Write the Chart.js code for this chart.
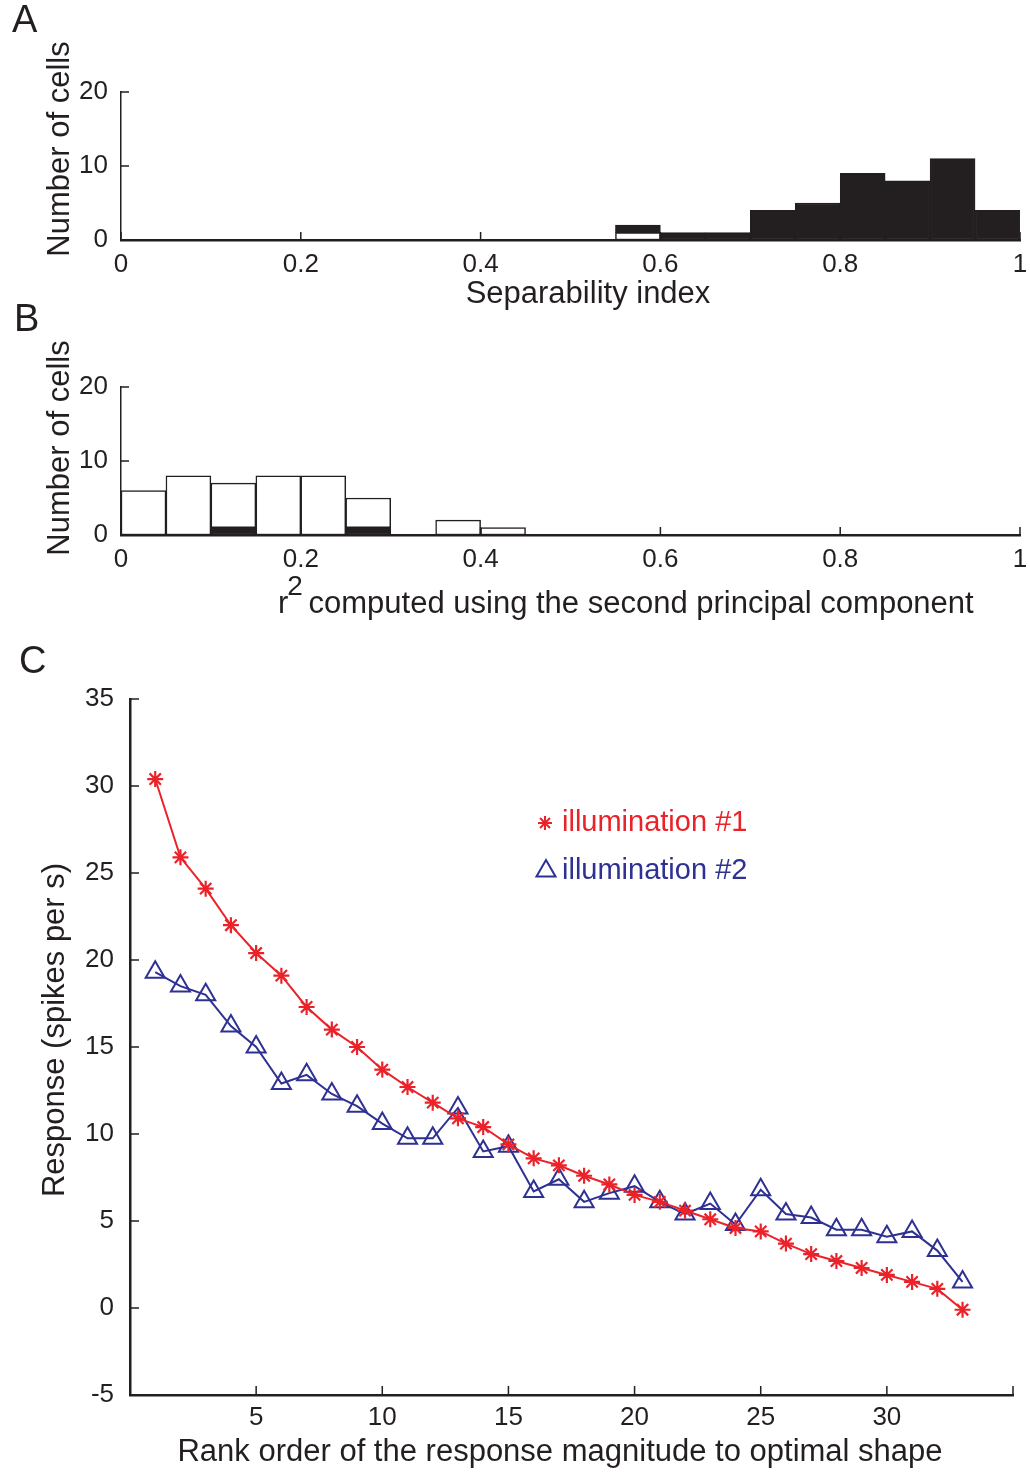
<!DOCTYPE html>
<html lang="en">
<head>
<meta charset="UTF-8" />
<title>Separability index and response rank</title>
<script src="https://cdn.jsdelivr.net/npm/chart.js"></script>
<style>
  html, body {
    margin: 0;
    padding: 0;
    background: #fff;
  }
  #page {
    position: relative;
    width: 1030px;
    height: 1474px;
  }
  canvas {
    position: absolute;
    left: 0;
  }
</style>
</head>
<body>
<div id="page">
  <canvas id="histA" width="1030" height="320" style="top:0px"></canvas>
  <canvas id="histB" width="1030" height="330" style="top:300px"></canvas>
  <canvas id="rankC" width="1030" height="844" style="top:630px"></canvas>
</div>

<script>
  // histogram bins (centres of 0.05 wide bins)
  const binCenters = [0.025, 0.075, 0.125, 0.175, 0.225, 0.275, 0.325, 0.375, 0.425, 0.475,
                      0.525, 0.575, 0.625, 0.675, 0.725, 0.775, 0.825, 0.875, 0.925, 0.975];

  // panel A: separability index
  const sepWhite = [0, 0, 0, 0, 0, 0, 0, 0, 0, 0, 0, 1, 0, 0, 0, 0, 0, 0, 0, 0];
  const sepBlack = [0, 0, 0, 0, 0, 0, 0, 0, 0, 0, 0, 1, 1, 1, 4, 5, 9, 8, 11, 4];

  // panel B: r2 of second principal component
  const r2Black = [0, 0, 1, 0, 0, 1, 0, 0, 0, 0, 0, 0, 0, 0, 0, 0, 0, 0, 0, 0];
  const r2White = [6, 8, 6, 8, 8, 4, 0, 2, 1, 0, 0, 0, 0, 0, 0, 0, 0, 0, 0, 0];

  const histTicks = [0, 0.2, 0.4, 0.6, 0.8, 1];

  // panel C: response vs rank
  const rank = [1, 2, 3, 4, 5, 6, 7, 8, 9, 10, 11, 12, 13, 14, 15, 16, 17,
                18, 19, 20, 21, 22, 23, 24, 25, 26, 27, 28, 29, 30, 31, 32, 33];
  const illum1 = [30.4, 25.9, 24.1, 22.0, 20.4, 19.1, 17.3, 16.0, 15.0, 13.7, 12.7,
                  11.8, 10.9, 10.4, 9.4, 8.6, 8.2, 7.6, 7.1, 6.5, 6.1, 5.6, 5.1,
                  4.6, 4.4, 3.7, 3.1, 2.7, 2.3, 1.9, 1.5, 1.1, -0.1];
  const illum2 = [19.3, 18.5, 18.0, 16.2, 15.0, 12.9, 13.4, 12.3, 11.6, 10.6, 9.75,
                  9.75, 11.5, 9.0, 9.3, 6.7, 7.4, 6.1, 6.6, 7.0, 6.1, 5.4, 6.0,
                  4.8, 6.8, 5.4, 5.2, 4.5, 4.5, 4.1, 4.4, 3.3, 1.5];

  const ink = '#231f20';
  const red = '#ea2229';
  const blue = '#2e3192';
  const FONT = '"Liberation Sans", Arial, Helvetica, sans-serif';

  function text(ctx, str, x, y, size, opts = {}) {
    ctx.save();
    ctx.font = size + 'px ' + FONT;
    ctx.fillStyle = opts.color || ink;
    ctx.textAlign = opts.align || 'center';
    ctx.textBaseline = opts.baseline || 'middle';
    ctx.translate(x, y);
    if (opts.rotate) ctx.rotate(opts.rotate);
    ctx.fillText(str, 0, 0);
    ctx.restore();
  }

  // matlab style ticks pointing into the plot
  function inwardTicks(chart, len) {
    const { ctx } = chart;
    const x = chart.scales.x, y = chart.scales.y;
    ctx.save();
    ctx.strokeStyle = ink;
    ctx.lineWidth = 1.5;
    ctx.beginPath();
    x.ticks.forEach(t => {
      const px = x.getPixelForValue(t.value);
      ctx.moveTo(px, y.bottom);
      ctx.lineTo(px, y.bottom - len);
    });
    y.ticks.forEach(t => {
      const py = y.getPixelForValue(t.value);
      ctx.moveTo(x.left, py);
      ctx.lineTo(x.left + len, py);
    });
    ctx.stroke();
    ctx.restore();
  }

  function histConfig(first, second, firstColor, secondColor, top, xHeight, decorate) {
    const pts = arr => arr.map((v, i) => ({ x: binCenters[i], y: v }));
    const ds = (arr, color) => ({
      data: pts(arr),
      backgroundColor: color,
      borderColor: ink,
      borderWidth: 1.5,
      borderSkipped: false,
      barPercentage: 1,
      categoryPercentage: 1
    });
    return {
      type: 'bar',
      data: { datasets: [ds(first, firstColor), ds(second, secondColor)] },
      options: {
        responsive: false,
        animation: false,
        events: [],
        layout: { padding: { top: top, right: 10, left: 0, bottom: 0 } },
        plugins: { legend: { display: false }, tooltip: { enabled: false } },
        scales: {
          x: {
            type: 'linear',
            min: 0, max: 1,
            offset: false,
            stacked: true,
            afterFit: s => { s.height = xHeight; s.paddingLeft = 0; s.paddingRight = 0; },
            afterBuildTicks: s => { s.ticks = histTicks.map(v => ({ value: v })); },
            grid: { display: false, offset: false, drawTicks: false },
            border: { display: true, color: ink, width: 2.5 },
            ticks: {
              padding: 9,
              color: ink,
              font: { family: FONT, size: 26 },
              maxRotation: 0,
              autoSkip: false,
              callback: v => String(+v.toFixed(1))
            }
          },
          y: {
            min: 0, max: 20,
            stacked: true,
            afterFit: s => { s.width = 121; },
            grid: { display: false, drawTicks: false },
            border: { display: true, color: ink, width: 1.5 },
            ticks: {
              stepSize: 10,
              padding: 13,
              color: ink,
              font: { family: FONT, size: 26 }
            }
          }
        }
      },
      plugins: [{
        id: 'decor',
        afterDraw(chart) {
          inwardTicks(chart, 8);
          decorate(chart.ctx);
        }
      }]
    };
  }

  new Chart(document.getElementById('histA'), histConfig(
    sepWhite, sepBlack, '#ffffff', ink, 92, 80,
    ctx => {
      text(ctx, 'A', 12, 22, 38, { align: 'left' });
      text(ctx, 'Number of cells', 60, 149, 31, { rotate: -Math.PI / 2 });
      text(ctx, 'Separability index', 588, 294, 31);
    }
  ));

  new Chart(document.getElementById('histB'), histConfig(
    r2Black, r2White, ink, '#ffffff', 87, 95,
    ctx => {
      text(ctx, 'B', 14, 21, 38, { align: 'left' });
      text(ctx, 'Number of cells', 60, 148, 31, { rotate: -Math.PI / 2 });
      // r squared title with raised 2
      ctx.save();
      ctx.font = '31px ' + FONT;
      const rW = ctx.measureText('r').width;
      ctx.font = '28px ' + FONT;
      const twoW = ctx.measureText('2').width;
      ctx.restore();
      const base = 313;
      const twoX = 278 + rW - 1;
      text(ctx, 'r', 278, base, 31, { align: 'left', baseline: 'alphabetic' });
      text(ctx, '2', twoX, base - 18, 28, { align: 'left', baseline: 'alphabetic' });
      text(ctx, ' computed using the second principal component', twoX + twoW - 3,
           base, 31, { align: 'left', baseline: 'alphabetic' });
    }
  ));

  new Chart(document.getElementById('rankC'), {
    type: 'line',
    data: {
      datasets: [
        {
          label: 'illumination #1',
          data: rank.map((r, i) => ({ x: r, y: illum1[i] })),
          borderColor: red,
          borderWidth: 2,
          pointStyle: 'star',
          pointRadius: 8,
          pointBorderColor: red,
          pointBorderWidth: 2.2,
          tension: 0
        },
        {
          label: 'illumination #2',
          data: rank.map((r, i) => ({ x: r, y: illum2[i] })),
          borderColor: blue,
          borderWidth: 2,
          pointStyle: 'triangle',
          pointRadius: 11,
          pointBackgroundColor: 'rgba(255,255,255,0)',
          pointBorderColor: blue,
          pointBorderWidth: 2,
          tension: 0
        }
      ]
    },
    options: {
      responsive: false,
      animation: false,
      events: [],
      layout: { padding: { top: 69, right: 17, left: 0, bottom: 0 } },
      plugins: { legend: { display: false }, tooltip: { enabled: false } },
      scales: {
        x: {
          type: 'linear',
          min: 0, max: 35,
          afterFit: s => { s.height = 79; s.paddingLeft = 0; s.paddingRight = 0; },
          grid: { display: false, drawTicks: false },
          border: { display: true, color: ink, width: 2.5 },
          ticks: {
            stepSize: 5,
            padding: 7,
            color: ink,
            font: { family: FONT, size: 26 },
            callback: v => (v === 0 || v === 35) ? '' : String(v)
          }
        },
        y: {
          min: -5, max: 35,
          afterFit: s => { s.width = 130; },
          grid: { display: false, drawTicks: false },
          border: { display: true, color: ink, width: 2.5 },
          ticks: {
            stepSize: 5,
            padding: 16,
            color: ink,
            font: { family: FONT, size: 26 }
          }
        }
      }
    },
    plugins: [{
      id: 'decorC',
      afterDraw(chart) {
        const ctx = chart.ctx;
        inwardTicks(chart, 9);
        text(ctx, 'C', 19, 33, 38, { align: 'left' });
        text(ctx, 'Response (spikes per s)', 55, 400, 31, { rotate: -Math.PI / 2 });
        text(ctx, 'Rank order of the response magnitude to optimal shape', 560, 822, 31);

        // legend
        ctx.save();
        ctx.lineWidth = 2;
        ctx.strokeStyle = red;
        const sx = 545, sy = 193, sr = 7;
        ctx.beginPath();
        for (let k = 0; k < 4; k++) {
          const a = k * Math.PI / 4;
          ctx.moveTo(sx - Math.cos(a) * sr, sy - Math.sin(a) * sr);
          ctx.lineTo(sx + Math.cos(a) * sr, sy + Math.sin(a) * sr);
        }
        ctx.stroke();
        ctx.strokeStyle = blue;
        const tx = 546, ty = 241, tr = 11;
        ctx.beginPath();
        for (let k = 0; k < 3; k++) {
          const a = k * 2 * Math.PI / 3;
          const px = tx + Math.sin(a) * tr, py = ty - Math.cos(a) * tr;
          if (k === 0) ctx.moveTo(px, py); else ctx.lineTo(px, py);
        }
        ctx.closePath();
        ctx.stroke();
        ctx.restore();
        text(ctx, 'illumination #1', 562, 193, 29, { align: 'left', color: red });
        text(ctx, 'illumination #2', 562, 241, 29, { align: 'left', color: blue });
      }
    }]
  });
</script>
</body>
</html>
